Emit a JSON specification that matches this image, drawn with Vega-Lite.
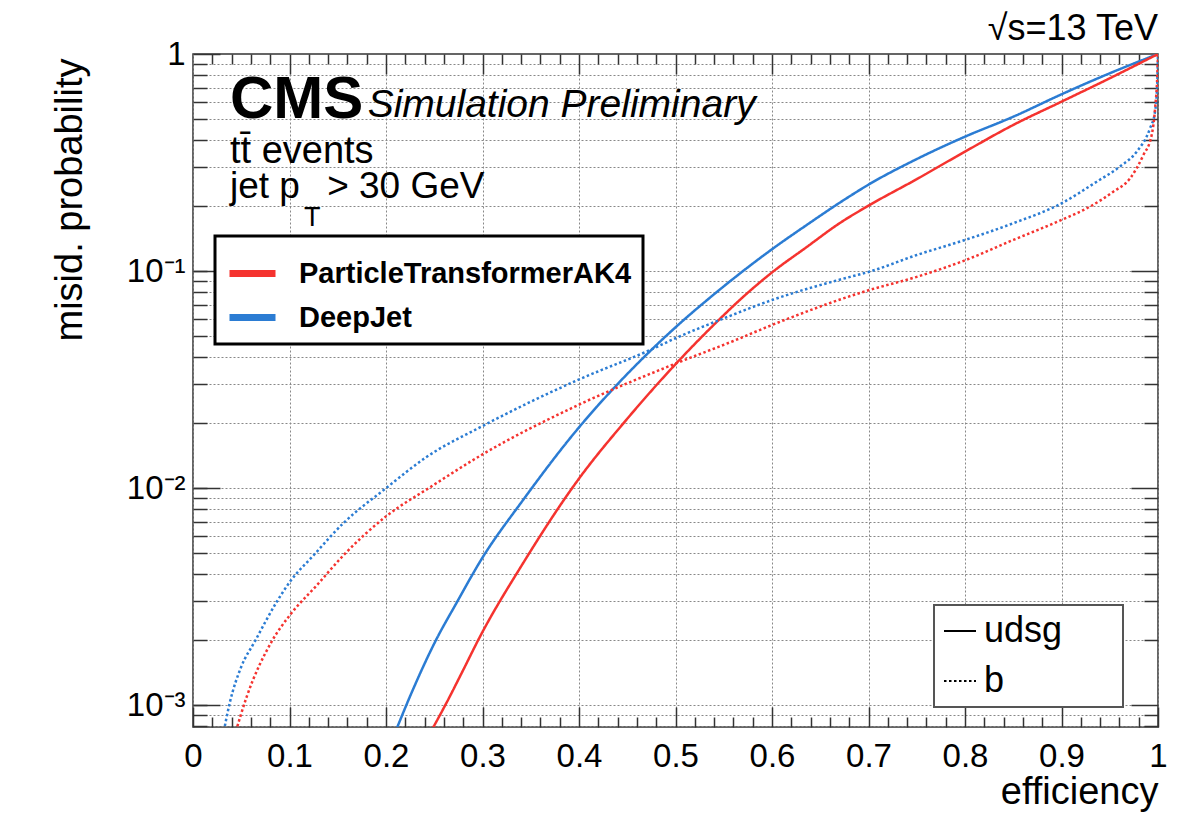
{
  "$schema": "https://vega.github.io/schema/vega-lite/v6.json",
  "width": 965,
  "height": 673,
  "autosize": {"type": "none"},
  "padding": {"left": 193, "top": 54, "right": 36, "bottom": 89},
  "background": "white",
  "config": {
    "font": "Liberation Sans",
    "view": {"stroke": "#333", "strokeWidth": 1.5},
    "axis": {
      "labelFont": "Liberation Sans", "titleFont": "Liberation Sans",
      "tickColor": "#333", "tickWidth": 1.5, "domain": false,
      "gridColor": "#888", "gridDash": [2, 2], "gridWidth": 1, "gridOpacity": 1,
      "labelColor": "black", "titleColor": "black", "titleFontWeight": "normal",
      "labelOverlap": false, "labelFlush": false, "labelBound": false
    },
    "legend": {"labelFont": "Liberation Sans", "labelColor": "black"}
  },
  "datasets": {
    "curves": [
      {"tagger": "DeepJet", "flavour": "udsg", "eff": 0.208, "mis": 0.00072},
      {"tagger": "DeepJet", "flavour": "udsg", "eff": 0.228, "mis": 0.00118},
      {"tagger": "DeepJet", "flavour": "udsg", "eff": 0.251, "mis": 0.00196},
      {"tagger": "DeepJet", "flavour": "udsg", "eff": 0.273, "mis": 0.00295},
      {"tagger": "DeepJet", "flavour": "udsg", "eff": 0.299, "mis": 0.0047},
      {"tagger": "DeepJet", "flavour": "udsg", "eff": 0.342, "mis": 0.0088},
      {"tagger": "DeepJet", "flavour": "udsg", "eff": 0.399, "mis": 0.0188},
      {"tagger": "DeepJet", "flavour": "udsg", "eff": 0.439, "mis": 0.0298},
      {"tagger": "DeepJet", "flavour": "udsg", "eff": 0.475, "mis": 0.0433},
      {"tagger": "DeepJet", "flavour": "udsg", "eff": 0.505, "mis": 0.0576},
      {"tagger": "DeepJet", "flavour": "udsg", "eff": 0.539, "mis": 0.0775},
      {"tagger": "DeepJet", "flavour": "udsg", "eff": 0.567, "mis": 0.0976},
      {"tagger": "DeepJet", "flavour": "udsg", "eff": 0.6, "mis": 0.126},
      {"tagger": "DeepJet", "flavour": "udsg", "eff": 0.636, "mis": 0.163},
      {"tagger": "DeepJet", "flavour": "udsg", "eff": 0.677, "mis": 0.216},
      {"tagger": "DeepJet", "flavour": "udsg", "eff": 0.7, "mis": 0.25},
      {"tagger": "DeepJet", "flavour": "udsg", "eff": 0.75, "mis": 0.328},
      {"tagger": "DeepJet", "flavour": "udsg", "eff": 0.8, "mis": 0.416},
      {"tagger": "DeepJet", "flavour": "udsg", "eff": 0.85, "mis": 0.514},
      {"tagger": "DeepJet", "flavour": "udsg", "eff": 0.9, "mis": 0.652},
      {"tagger": "DeepJet", "flavour": "udsg", "eff": 0.95, "mis": 0.815},
      {"tagger": "DeepJet", "flavour": "udsg", "eff": 1.0, "mis": 1.0},
      {"tagger": "ParticleTransformerAK4", "flavour": "udsg", "eff": 0.244, "mis": 0.00072},
      {"tagger": "ParticleTransformerAK4", "flavour": "udsg", "eff": 0.263, "mis": 0.00103},
      {"tagger": "ParticleTransformerAK4", "flavour": "udsg", "eff": 0.28, "mis": 0.00145},
      {"tagger": "ParticleTransformerAK4", "flavour": "udsg", "eff": 0.297, "mis": 0.00205},
      {"tagger": "ParticleTransformerAK4", "flavour": "udsg", "eff": 0.342, "mis": 0.0045},
      {"tagger": "ParticleTransformerAK4", "flavour": "udsg", "eff": 0.399, "mis": 0.0109},
      {"tagger": "ParticleTransformerAK4", "flavour": "udsg", "eff": 0.449, "mis": 0.0206},
      {"tagger": "ParticleTransformerAK4", "flavour": "udsg", "eff": 0.501, "mis": 0.0376},
      {"tagger": "ParticleTransformerAK4", "flavour": "udsg", "eff": 0.543, "mis": 0.0584},
      {"tagger": "ParticleTransformerAK4", "flavour": "udsg", "eff": 0.57, "mis": 0.0759},
      {"tagger": "ParticleTransformerAK4", "flavour": "udsg", "eff": 0.6, "mis": 0.0985},
      {"tagger": "ParticleTransformerAK4", "flavour": "udsg", "eff": 0.636, "mis": 0.129},
      {"tagger": "ParticleTransformerAK4", "flavour": "udsg", "eff": 0.67, "mis": 0.166},
      {"tagger": "ParticleTransformerAK4", "flavour": "udsg", "eff": 0.7, "mis": 0.2},
      {"tagger": "ParticleTransformerAK4", "flavour": "udsg", "eff": 0.75, "mis": 0.265},
      {"tagger": "ParticleTransformerAK4", "flavour": "udsg", "eff": 0.8, "mis": 0.355},
      {"tagger": "ParticleTransformerAK4", "flavour": "udsg", "eff": 0.85, "mis": 0.471},
      {"tagger": "ParticleTransformerAK4", "flavour": "udsg", "eff": 0.9, "mis": 0.603},
      {"tagger": "ParticleTransformerAK4", "flavour": "udsg", "eff": 0.95, "mis": 0.773},
      {"tagger": "ParticleTransformerAK4", "flavour": "udsg", "eff": 1.0, "mis": 1.0},
      {"tagger": "DeepJet", "flavour": "b", "eff": 0.031, "mis": 0.00072},
      {"tagger": "DeepJet", "flavour": "b", "eff": 0.038, "mis": 0.00102},
      {"tagger": "DeepJet", "flavour": "b", "eff": 0.05, "mis": 0.0015},
      {"tagger": "DeepJet", "flavour": "b", "eff": 0.064, "mis": 0.00196},
      {"tagger": "DeepJet", "flavour": "b", "eff": 0.087, "mis": 0.003},
      {"tagger": "DeepJet", "flavour": "b", "eff": 0.1005, "mis": 0.0037},
      {"tagger": "DeepJet", "flavour": "b", "eff": 0.125, "mis": 0.0049},
      {"tagger": "DeepJet", "flavour": "b", "eff": 0.156, "mis": 0.0069},
      {"tagger": "DeepJet", "flavour": "b", "eff": 0.2, "mis": 0.00998},
      {"tagger": "DeepJet", "flavour": "b", "eff": 0.242, "mis": 0.0139},
      {"tagger": "DeepJet", "flavour": "b", "eff": 0.299, "mis": 0.0192},
      {"tagger": "DeepJet", "flavour": "b", "eff": 0.399, "mis": 0.0315},
      {"tagger": "DeepJet", "flavour": "b", "eff": 0.474, "mis": 0.0433},
      {"tagger": "DeepJet", "flavour": "b", "eff": 0.5, "mis": 0.049},
      {"tagger": "DeepJet", "flavour": "b", "eff": 0.55, "mis": 0.0605},
      {"tagger": "DeepJet", "flavour": "b", "eff": 0.6, "mis": 0.0735},
      {"tagger": "DeepJet", "flavour": "b", "eff": 0.681, "mis": 0.094},
      {"tagger": "DeepJet", "flavour": "b", "eff": 0.7, "mis": 0.099},
      {"tagger": "DeepJet", "flavour": "b", "eff": 0.75, "mis": 0.1185},
      {"tagger": "DeepJet", "flavour": "b", "eff": 0.8, "mis": 0.139},
      {"tagger": "DeepJet", "flavour": "b", "eff": 0.85, "mis": 0.166},
      {"tagger": "DeepJet", "flavour": "b", "eff": 0.9, "mis": 0.205},
      {"tagger": "DeepJet", "flavour": "b", "eff": 0.9365, "mis": 0.258},
      {"tagger": "DeepJet", "flavour": "b", "eff": 0.9606, "mis": 0.303},
      {"tagger": "DeepJet", "flavour": "b", "eff": 0.978, "mis": 0.355},
      {"tagger": "DeepJet", "flavour": "b", "eff": 0.9917, "mis": 0.454},
      {"tagger": "DeepJet", "flavour": "b", "eff": 0.9969, "mis": 0.542},
      {"tagger": "DeepJet", "flavour": "b", "eff": 0.9993, "mis": 0.745},
      {"tagger": "DeepJet", "flavour": "b", "eff": 1.0, "mis": 1.0},
      {"tagger": "ParticleTransformerAK4", "flavour": "b", "eff": 0.043, "mis": 0.00072},
      {"tagger": "ParticleTransformerAK4", "flavour": "b", "eff": 0.0556, "mis": 0.00109},
      {"tagger": "ParticleTransformerAK4", "flavour": "b", "eff": 0.0815, "mis": 0.00196},
      {"tagger": "ParticleTransformerAK4", "flavour": "b", "eff": 0.1005, "mis": 0.0026},
      {"tagger": "ParticleTransformerAK4", "flavour": "b", "eff": 0.128, "mis": 0.00355},
      {"tagger": "ParticleTransformerAK4", "flavour": "b", "eff": 0.156, "mis": 0.0049},
      {"tagger": "ParticleTransformerAK4", "flavour": "b", "eff": 0.2, "mis": 0.0074},
      {"tagger": "ParticleTransformerAK4", "flavour": "b", "eff": 0.246, "mis": 0.0101},
      {"tagger": "ParticleTransformerAK4", "flavour": "b", "eff": 0.299, "mis": 0.0142},
      {"tagger": "ParticleTransformerAK4", "flavour": "b", "eff": 0.399, "mis": 0.0241},
      {"tagger": "ParticleTransformerAK4", "flavour": "b", "eff": 0.501, "mis": 0.0376},
      {"tagger": "ParticleTransformerAK4", "flavour": "b", "eff": 0.56, "mis": 0.0476},
      {"tagger": "ParticleTransformerAK4", "flavour": "b", "eff": 0.6, "mis": 0.0564},
      {"tagger": "ParticleTransformerAK4", "flavour": "b", "eff": 0.7, "mis": 0.0815},
      {"tagger": "ParticleTransformerAK4", "flavour": "b", "eff": 0.75, "mis": 0.094},
      {"tagger": "ParticleTransformerAK4", "flavour": "b", "eff": 0.8, "mis": 0.112},
      {"tagger": "ParticleTransformerAK4", "flavour": "b", "eff": 0.85, "mis": 0.139},
      {"tagger": "ParticleTransformerAK4", "flavour": "b", "eff": 0.9, "mis": 0.172},
      {"tagger": "ParticleTransformerAK4", "flavour": "b", "eff": 0.9295, "mis": 0.198},
      {"tagger": "ParticleTransformerAK4", "flavour": "b", "eff": 0.9537, "mis": 0.232},
      {"tagger": "ParticleTransformerAK4", "flavour": "b", "eff": 0.971, "mis": 0.267},
      {"tagger": "ParticleTransformerAK4", "flavour": "b", "eff": 0.9848, "mis": 0.342},
      {"tagger": "ParticleTransformerAK4", "flavour": "b", "eff": 0.9935, "mis": 0.424},
      {"tagger": "ParticleTransformerAK4", "flavour": "b", "eff": 0.997, "mis": 0.562},
      {"tagger": "ParticleTransformerAK4", "flavour": "b", "eff": 0.9993, "mis": 0.8},
      {"tagger": "ParticleTransformerAK4", "flavour": "b", "eff": 1.0, "mis": 1.0}
    ]
  },
  "resolve": {"axis": {"x": "independent", "y": "independent"}},
  "layer": [
    {
      "data": {"name": "curves"},
      "transform": [{"filter": "datum.flavour === 'udsg'"}],
      "mark": {"type": "line", "strokeWidth": 2.5, "clip": true, "interpolate": "monotone"},
      "encoding": {
        "x": {"field": "eff", "type": "quantitative", "scale": {"domain": [0, 1], "nice": false, "zero": false},
          "axis": {"orient": "bottom", "values": [0, 0.1, 0.2, 0.3, 0.4, 0.5, 0.6, 0.7, 0.8, 0.9, 1], "format": "~g", "tickSize": -20, "labelFontSize": 33, "labelPadding": 33, "grid": true,
            "title": "efficiency", "titleFontSize": 38, "titleX": 965, "titleY": 76, "titleAlign": "right", "titleBaseline": "alphabetic", "titleAnchor": null}},
        "y": {"field": "mis", "type": "quantitative", "scale": {"type": "log", "domain": [0.000792, 1], "nice": false},
          "axis": {"orient": "left", "values": [0.001, 0.01, 0.1, 1], "tickSize": -27, "labelFontSize": 33, "labelPadding": 35, "grid": false,
            "labelExpr": "datum.value > 0.5 ? '1' : datum.value > 0.05 ? '10⁻¹' : datum.value > 0.005 ? '10⁻²' : '10⁻³'",
            "title": "misid. probability", "titleFontSize": 38, "titleAngle": 270, "titleX": -112, "titleY": 4, "titleAlign": "right", "titleBaseline": "alphabetic"}},
        "color": {"field": "tagger", "type": "nominal", "scale": {"domain": ["ParticleTransformerAK4", "DeepJet"], "range": ["#f5332f", "#2b7cd3"]},
          "legend": {"orient": "none", "legendX": 22, "legendY": 182, "direction": "vertical", "title": null, "symbolType": "stroke", "symbolSize": 2116, "symbolStrokeWidth": 7,
            "labelFontSize": 29, "labelFontWeight": "bold", "labelOffset": 20, "rowPadding": 2, "padding": 11, "fillColor": "white", "strokeColor": "black", "labelLimit": 700,
            "encode": {"legend": {"update": {"strokeWidth": {"value": 3}}}}}},
        "strokeDash": {"field": "flavour", "type": "nominal", "scale": {"domain": ["udsg", "b"], "range": [[1, 0], [2.5, 2.5]]},
          "legend": {"orient": "none", "legendX": 741, "legendY": 551, "direction": "vertical", "title": null, "symbolType": "stroke", "symbolSize": 1024, "symbolStrokeWidth": 2, "symbolStrokeColor": "black",
            "labelFontSize": 36, "labelOffset": 6, "rowPadding": 14, "padding": 8, "fillColor": "white", "strokeColor": "#555",
            "labelExpr": "datum.label + '\u2800\u2800'",
            "encode": {"legend": {"update": {"strokeWidth": {"value": 2}}}}}}
      }
    },
    {
      "data": {"name": "curves"},
      "transform": [{"filter": "datum.flavour === 'b'"}],
      "mark": {"type": "line", "strokeWidth": 2.5, "clip": true, "interpolate": "monotone"},
      "encoding": {
        "x": {"field": "eff", "type": "quantitative", "scale": {"domain": [0, 1], "nice": false, "zero": false},
          "axis": {"orient": "bottom", "values": [0.02, 0.04, 0.06, 0.08, 0.12, 0.14, 0.16, 0.18, 0.22, 0.24, 0.26, 0.28, 0.32, 0.34, 0.36, 0.38, 0.42, 0.44, 0.46, 0.48, 0.52, 0.54, 0.56, 0.58, 0.62, 0.64, 0.66, 0.68, 0.72, 0.74, 0.76, 0.78, 0.82, 0.84, 0.86, 0.88, 0.92, 0.94, 0.96, 0.98], "tickSize": -10, "labels": false, "grid": false, "title": null}},
        "y": {"field": "mis", "type": "quantitative", "scale": {"type": "log", "domain": [0.000792, 1], "nice": false},
          "axis": {"orient": "left", "values": [0.0008, 0.0009, 0.001, 0.002, 0.003, 0.004, 0.005, 0.006, 0.007, 0.008, 0.009, 0.01, 0.02, 0.03, 0.04, 0.05, 0.06, 0.07, 0.08, 0.09, 0.1, 0.2, 0.3, 0.4, 0.5, 0.6, 0.7, 0.8, 0.9], "tickSize": -14, "labels": false, "grid": true, "title": null}},
        "color": {"field": "tagger", "type": "nominal", "scale": {"domain": ["ParticleTransformerAK4", "DeepJet"], "range": ["#f5332f", "#2b7cd3"]},
          "legend": {"orient": "none", "legendX": 22, "legendY": 182, "direction": "vertical", "title": null, "symbolType": "stroke", "symbolSize": 2116, "symbolStrokeWidth": 7,
            "labelFontSize": 29, "labelFontWeight": "bold", "labelOffset": 20, "rowPadding": 2, "padding": 11, "fillColor": "white", "strokeColor": "black", "labelLimit": 700,
            "encode": {"legend": {"update": {"strokeWidth": {"value": 3}}}}}},
        "strokeDash": {"field": "flavour", "type": "nominal", "scale": {"domain": ["udsg", "b"], "range": [[1, 0], [2.5, 2.5]]},
          "legend": {"orient": "none", "legendX": 741, "legendY": 551, "direction": "vertical", "title": null, "symbolType": "stroke", "symbolSize": 1024, "symbolStrokeWidth": 2, "symbolStrokeColor": "black",
            "labelFontSize": 36, "labelOffset": 6, "rowPadding": 14, "padding": 8, "fillColor": "white", "strokeColor": "#555",
            "labelExpr": "datum.label + '\u2800\u2800'",
            "encode": {"legend": {"update": {"strokeWidth": {"value": 2}}}}}}
      }
    },
    {
      "data": {"values": [{"t": "CMS"}]},
      "mark": {"type": "text", "font": "Liberation Sans", "fontSize": 60, "fontWeight": "bold", "align": "left", "baseline": "alphabetic", "color": "black"},
      "encoding": {
        "x": {"datum": 0.0383, "type": "quantitative", "scale": {"domain": [0, 1], "nice": false, "zero": false},
          "axis": {"orient": "top", "values": [0.1, 0.2, 0.3, 0.4, 0.5, 0.6, 0.7, 0.8, 0.9], "tickSize": -20, "labels": false, "grid": false, "title": null}},
        "y": {"datum": 0.507, "type": "quantitative", "scale": {"type": "log", "domain": [0.000792, 1], "nice": false},
          "axis": {"orient": "right", "values": [0.001, 0.01, 0.1], "tickSize": -27, "labels": false, "grid": false, "title": null}},
        "text": {"field": "t"}
      }
    },
    {
      "data": {"values": [{"t": "Simulation Preliminary"}]},
      "mark": {"type": "text", "font": "Liberation Sans", "fontSize": 39, "fontStyle": "italic", "align": "left", "baseline": "alphabetic", "color": "black"},
      "encoding": {
        "x": {"datum": 0.181, "type": "quantitative", "scale": {"domain": [0, 1], "nice": false, "zero": false},
          "axis": {"orient": "top", "values": [0.02, 0.04, 0.06, 0.08, 0.12, 0.14, 0.16, 0.18, 0.22, 0.24, 0.26, 0.28, 0.32, 0.34, 0.36, 0.38, 0.42, 0.44, 0.46, 0.48, 0.52, 0.54, 0.56, 0.58, 0.62, 0.64, 0.66, 0.68, 0.72, 0.74, 0.76, 0.78, 0.82, 0.84, 0.86, 0.88, 0.92, 0.94, 0.96, 0.98], "tickSize": -10, "labels": false, "grid": false, "title": null}},
        "y": {"datum": 0.51, "type": "quantitative", "scale": {"type": "log", "domain": [0.000792, 1], "nice": false},
          "axis": {"orient": "right", "values": [0.0008, 0.0009, 0.002, 0.003, 0.004, 0.005, 0.006, 0.007, 0.008, 0.009, 0.02, 0.03, 0.04, 0.05, 0.06, 0.07, 0.08, 0.09, 0.2, 0.3, 0.4, 0.5, 0.6, 0.7, 0.8, 0.9], "tickSize": -14, "labels": false, "grid": false, "title": null}},
        "text": {"field": "t"}
      }
    },
    {
      "data": {"values": [{"t": "tt̄ events"}]},
      "mark": {"type": "text", "font": "Liberation Sans", "fontSize": 38, "align": "left", "baseline": "alphabetic", "color": "black"},
      "encoding": {
        "x": {"datum": 0.0383, "type": "quantitative", "scale": {"domain": [0, 1], "nice": false, "zero": false}, "axis": null},
        "y": {"datum": 0.3146, "type": "quantitative", "scale": {"type": "log", "domain": [0.000792, 1], "nice": false}, "axis": null},
        "text": {"field": "t"}
      }
    },
    {
      "data": {"values": [{"t": "jet p"}]},
      "mark": {"type": "text", "font": "Liberation Sans", "fontSize": 37, "align": "left", "baseline": "alphabetic", "color": "black"},
      "encoding": {
        "x": {"datum": 0.0383, "type": "quantitative", "scale": {"domain": [0, 1], "nice": false, "zero": false}, "axis": null},
        "y": {"datum": 0.217, "type": "quantitative", "scale": {"type": "log", "domain": [0.000792, 1], "nice": false}, "axis": null},
        "text": {"field": "t"}
      }
    },
    {
      "data": {"values": [{"t": "T"}]},
      "mark": {"type": "text", "font": "Liberation Sans", "fontSize": 27, "align": "left", "baseline": "alphabetic", "color": "black"},
      "encoding": {
        "x": {"datum": 0.115, "type": "quantitative", "scale": {"domain": [0, 1], "nice": false, "zero": false}, "axis": null},
        "y": {"datum": 0.162, "type": "quantitative", "scale": {"type": "log", "domain": [0.000792, 1], "nice": false}, "axis": null},
        "text": {"field": "t"}
      }
    },
    {
      "data": {"values": [{"t": "> 30 GeV"}]},
      "mark": {"type": "text", "font": "Liberation Sans", "fontSize": 37, "align": "left", "baseline": "alphabetic", "color": "black"},
      "encoding": {
        "x": {"datum": 0.139, "type": "quantitative", "scale": {"domain": [0, 1], "nice": false, "zero": false}, "axis": null},
        "y": {"datum": 0.217, "type": "quantitative", "scale": {"type": "log", "domain": [0.000792, 1], "nice": false}, "axis": null},
        "text": {"field": "t"}
      }
    },
    {
      "data": {"values": [{"t": "√s=13 TeV"}]},
      "mark": {"type": "text", "font": "Liberation Sans", "fontSize": 36, "align": "right", "baseline": "alphabetic", "color": "black"},
      "encoding": {
        "x": {"datum": 1.0, "type": "quantitative", "scale": {"domain": [0, 1], "nice": false, "zero": false}, "axis": null},
        "y": {"datum": 1.16, "type": "quantitative", "scale": {"type": "log", "domain": [0.000792, 1], "nice": false}, "axis": null},
        "text": {"field": "t"}
      }
    }
  ]
}
